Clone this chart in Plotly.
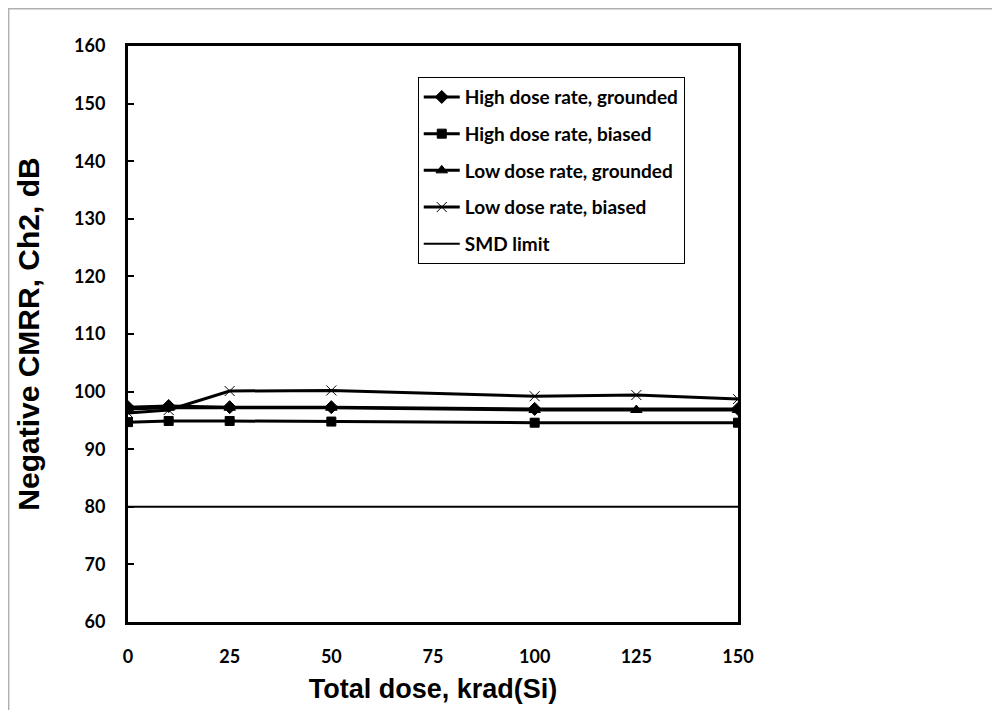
import plotly.graph_objects as go

dose_high = [0, 10, 25, 50, 100, 150]
dose_low = [0, 10, 25, 50, 100, 125, 150]
hdr_grounded = [97.3, 97.5, 97.3, 97.3, 97.0, 97.0]
hdr_biased = [94.7, 94.9, 94.9, 94.8, 94.6, 94.6]
ldr_grounded = [97.0, 97.2, 97.2, 97.2, 96.8, 96.8, 96.8]
ldr_biased = [96.3, 96.8, 100.1, 100.2, 99.2, 99.4, 98.7]
smd_x = [0, 150]
smd_y = [80, 80]

series = [
    ("High dose rate, grounded", dose_high, hdr_grounded, "diamond", 10),
    ("High dose rate, biased", dose_high, hdr_biased, "square", 9),
    ("Low dose rate, grounded", dose_low, ldr_grounded, "triangle-up", 10),
    ("Low dose rate, biased", dose_low, ldr_biased, "x-thin-open", 10),
]

fig = go.Figure()
for i, (name, xs, ys, sym, sz) in enumerate(series):
    fig.add_trace(go.Scatter(
        x=xs, y=ys, name=name, mode="lines+markers",
        line=dict(color="black", width=3),
        marker=dict(symbol=sym, size=sz, color="black",
                    line=dict(color="black", width=1)),
        legendgroup=f"g{i}",
    ))
fig.add_trace(go.Scatter(
    x=smd_x, y=smd_y, name="SMD limit", mode="lines",
    line=dict(color="black", width=2), legendgroup="g4",
))

tick_font = dict(family="Lato", size=18, color="black", weight="bold")

fig.update_layout(
    width=1000, height=710,
    margin=dict(l=120, r=270, t=38, b=96),
    paper_bgcolor="white", plot_bgcolor="white",
    showlegend=True,
    legend=dict(
        x=0.475, y=0.946, xanchor="left", yanchor="top",
        bordercolor="black", borderwidth=1, bgcolor="white",
        font=dict(family="Lato", size=19, color="black", weight="bold"),
        tracegroupgap=9, traceorder="grouped",
        itemwidth=36,
    ),
    xaxis=dict(
        range=[0, 150], tickvals=[0, 25, 50, 75, 100, 125, 150],
        showgrid=False, zeroline=False,
        showline=True, linecolor="black", linewidth=3, mirror=True,
        ticks="", tickfont=tick_font, ticklabelstandoff=16,
        title=dict(text="Total dose, krad(Si)",
                   font=dict(family="Liberation Sans", size=27, color="black", weight="bold"),
                   standoff=14),
    ),
    yaxis=dict(
        range=[60, 160], dtick=10,
        showgrid=False, zeroline=False,
        showline=True, linecolor="black", linewidth=3, mirror=True,
        ticks="inside", ticklen=6, tickwidth=2, tickcolor="black",
        tickfont=tick_font, ticklabelstandoff=16,
        title=dict(text="Negative CMRR, Ch2, dB",
                   font=dict(family="Liberation Sans", size=30, color="black", weight="bold"),
                   standoff=26),
    ),
    shapes=[dict(
        type="rect", xref="paper", yref="paper",
        x0=-0.196, x1=1.6, y0=-0.3, y1=1.065,
        line=dict(color="#b0b0b0", width=2), fillcolor="rgba(0,0,0,0)",
        layer="below",
    )],
)

fig.write_html("out.html")
